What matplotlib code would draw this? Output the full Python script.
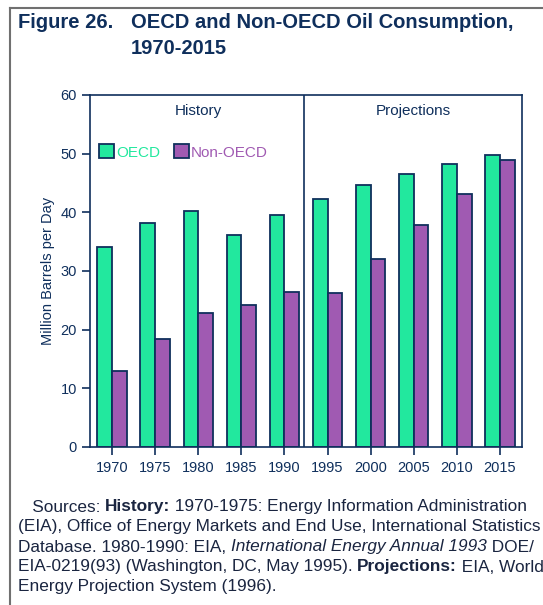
import numpy as np
import matplotlib
matplotlib.use('Agg')
import matplotlib.pyplot as plt
from matplotlib.offsetbox import TextArea, HPacker, AnnotationBbox

years = ['1970', '1975', '1980', '1985', '1990', '1995', '2000', '2005', '2010', '2015']
oecd = [34.1, 38.1, 40.2, 36.1, 39.5, 42.2, 44.6, 46.6, 48.3, 49.7]
non_oecd = [12.9, 18.4, 22.8, 24.2, 26.5, 26.2, 32.0, 37.8, 43.2, 49.0]
panels = ['History', 'Projections']

navy = '#0f2f5c'
green = '#22e89e'
purple = '#a05ab2'
plt.rcParams['font.family'] = ['Liberation Sans', 'DejaVu Sans']

fig = plt.figure(figsize=(5.43, 6.05), dpi=100)
ax = fig.add_axes([0.1657, 0.2612, 0.7956, 0.5818])

x = np.arange(len(years))
w = 0.34
ax.bar(x - w / 2, oecd, w, color=green, edgecolor=navy, linewidth=1.3, label='OECD')
ax.bar(x + w / 2, non_oecd, w, color=purple, edgecolor=navy, linewidth=1.3, label='Non-OECD')

ax.set_xlim(-0.51, 9.51)
ax.set_ylim(0, 60)
ax.set_yticks(range(0, 61, 10))
ax.set_xticks(x)
ax.set_xticklabels(years)
ax.tick_params(colors=navy, labelsize=10.5, width=1.2, length=6)
ax.tick_params(axis='x', pad=4)
for s in ax.spines.values():
    s.set_color(navy)
    s.set_linewidth(1.2)
ax.axvline(4.45, color=navy, lw=1.2)

ax.text(2.0, 57.3, panels[0], ha='center', va='center', fontsize=11, color=navy)
ax.text(7.0, 57.3, panels[1], ha='center', va='center', fontsize=11, color=navy)
ax.set_ylabel('Million Barrels per Day', fontsize=10.5, color=navy, labelpad=4)

leg = ax.legend(loc='center left', bbox_to_anchor=(0.0, 0.838), ncol=2, frameon=False,
                fontsize=11, handlelength=1.0, handleheight=1.0, handletextpad=0.1,
                columnspacing=0.9, labelcolor=[green, purple], borderaxespad=0.2)

# title
fig.text(18 / 543, 1 - 22 / 605, 'Figure 26.', fontsize=14.5, fontweight='bold', color=navy, va='center')
fig.text(131 / 543, 1 - 22 / 605, 'OECD and Non-OECD Oil Consumption,', fontsize=14.5,
         fontweight='bold', color=navy, va='center')
fig.text(131 / 543, 1 - 48 / 605, '1970-2015', fontsize=14.5, fontweight='bold', color=navy, va='center')

# frame lines
fig.add_artist(plt.Line2D([9.5 / 543, 9.5 / 543], [0, 1 - 8 / 605], color='#707070', lw=1.5))
fig.add_artist(plt.Line2D([9.5 / 543, 1], [1 - 8 / 605, 1 - 8 / 605], color='#707070', lw=1.5))

# source note
src_color = '#1a2540'
lines = [
    [('   Sources: ', 'normal', 'normal'), ('History:', 'bold', 'normal'),
     (' 1970-1975: Energy Information Administration', 'normal', 'normal')],
    [('(EIA), Office of Energy Markets and End Use, International Statistics', 'normal', 'normal')],
    [('Database. 1980-1990: EIA, ', 'normal', 'normal'),
     ('International Energy Annual 1993', 'normal', 'italic'), (' DOE/', 'normal', 'normal')],
    [('EIA-0219(93) (Washington, DC, May 1995). ', 'normal', 'normal'),
     ('Projections:', 'bold', 'normal'), (' EIA, World', 'normal', 'normal')],
    [('Energy Projection System (1996).', 'normal', 'normal')],
]
for i, segs in enumerate(lines):
    parts = [TextArea(t, textprops=dict(fontsize=12.4, fontweight=fw, fontstyle=fs, color=src_color))
             for t, fw, fs in segs]
    box = HPacker(children=parts, pad=0, sep=0, align='baseline')
    ab = AnnotationBbox(box, (18 / 543, 1 - (507 + 20 * i) / 605), xycoords='figure fraction',
                        box_alignment=(0, 0.5), frameon=False, pad=0)
    fig.add_artist(ab)

fig.savefig('out.png', dpi=100)
